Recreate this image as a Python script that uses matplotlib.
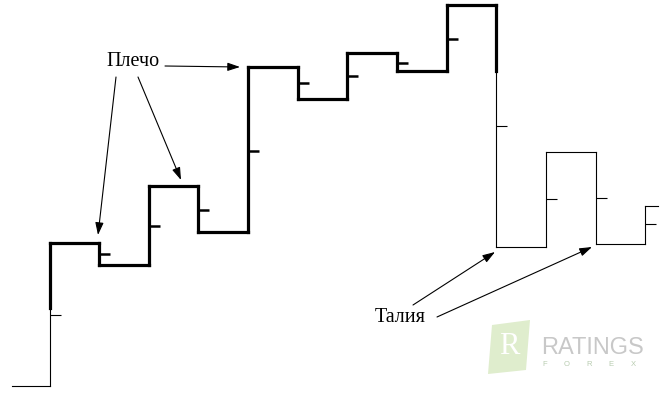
import matplotlib.pyplot as plt
from matplotlib.patches import Polygon

# Kagi: позиции колонок и уровни разворота (цена = 400 - пиксель)
start_x = 12
end_x = 658
col_x = [50, 99, 149, 198, 248, 298, 347, 397, 447, 496, 546, 596, 645]
levels = [14, 157, 135, 214, 168, 333, 301, 347, 329, 395, 153, 248, 156, 194]
ticks = [85, 146, 174, 190, 249, 317, 324, 337, 361, 274, 201, 202, 176]

# смена толщины линии: Ян (толстая) и Инь (тонкая)
yang_col, yang_level = 0, 92
yin_col, yin_level = 9, 329

THIN, THICK = 0.8, 2.3

# строим ломаную
pts = [(start_x, levels[0])]
switch_idx = []
for i, x in enumerate(col_x):
    pts.append((x, levels[i]))
    if i == yang_col:
        pts.append((x, yang_level))
        switch_idx.append(len(pts) - 1)
    if i == yin_col:
        pts.append((x, yin_level))
        switch_idx.append(len(pts) - 1)
    pts.append((x, levels[i + 1]))
pts.append((end_x, levels[-1]))

fig = plt.figure(figsize=(6.7, 4.0), dpi=100)
ax = fig.add_axes([0, 0, 1, 1])
ax.set_xlim(0, 670)
ax.set_ylim(0, 400)
ax.axis('off')

for k in range(len(pts) - 1):
    thick = switch_idx[0] <= k < switch_idx[1]
    (x0, y0), (x1, y1) = pts[k], pts[k + 1]
    ax.plot([x0, x1], [y0, y1], color='black',
            lw=THICK if thick else THIN, solid_capstyle='projecting')

# засечки
for i, (x, t) in enumerate(zip(col_x, ticks)):
    thick = (yang_col < i < yin_col) or (i == yang_col and t > yang_level) \
        or (i == yin_col and t > yin_level)
    ax.plot([x, x + 11], [t, t], color='black',
            lw=1.8 if thick else THIN, solid_capstyle='butt')

font = dict(family='Liberation Serif', fontsize=14.5, color='black')
arrow = dict(arrowstyle='-|>,head_length=0.75,head_width=0.25',
             color='black', lw=0.8, shrinkA=0, shrinkB=0)

# Плечо
ax.text(133, 338, 'Плечо', ha='center', va='center', **font)
for sx, sy, tx, ty in [(165, 334, 240, 333), (116, 323, 98, 165), (138, 323, 181, 220)]:
    ax.annotate('', xy=(tx, ty), xytext=(sx, sy), arrowprops=arrow)

# Талия
ax.text(400, 83, 'Талия', ha='center', va='center', **font)
for sx, sy, tx, ty in [(413, 95, 495, 148), (437, 83, 592, 153)]:
    ax.annotate('', xy=(tx, ty), xytext=(sx, sy), arrowprops=arrow)

# водяной знак
ax.add_patch(Polygon([(492, 75), (530, 80), (526, 30), (488, 26)],
                     closed=True, color='#dcebc8', alpha=0.9, lw=0))
ax.text(509, 53, 'R', ha='center', va='center', fontsize=22,
        family='Liberation Serif', color='white')
ax.text(541, 52, 'RATINGS', ha='left', va='center', fontsize=17,
        family='Liberation Sans', color='#c8c8c8')
for j, ch in enumerate('FOREX'):
    ax.text(545 + j * 22, 35, ch, ha='center', va='center', fontsize=5.5,
            family='Liberation Sans', color='#b8ccb0')

fig.savefig('out.png', dpi=100)
